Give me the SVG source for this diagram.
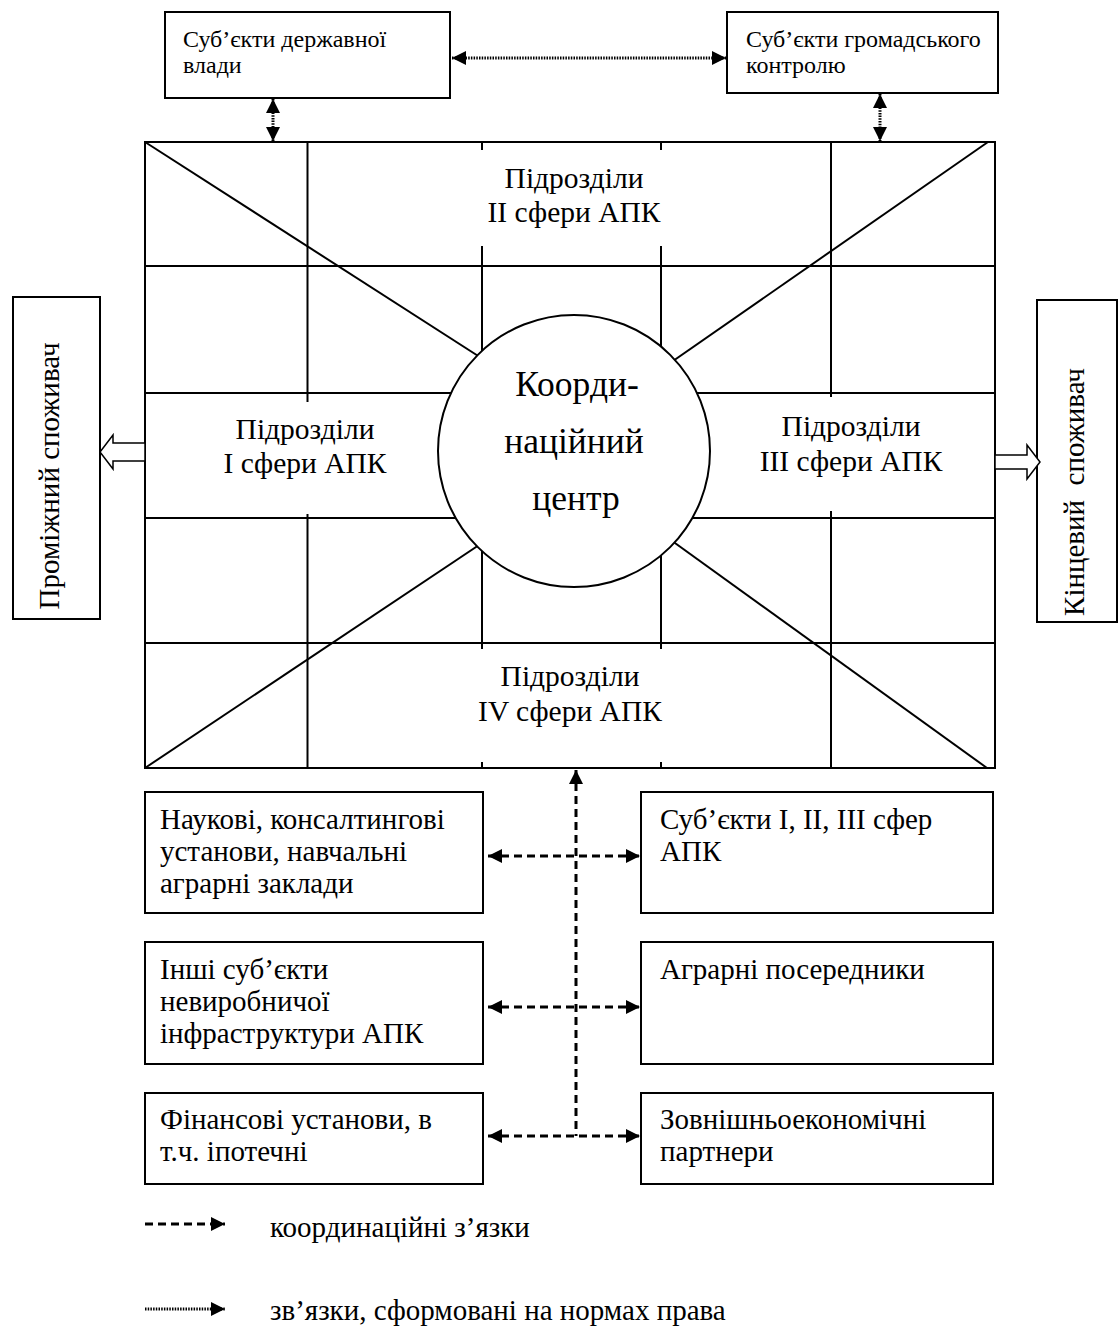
<svg xmlns="http://www.w3.org/2000/svg" width="1118" height="1329" viewBox="0 0 1118 1329">
<style>
text{font-family:"Liberation Serif","Times New Roman",serif;fill:#000}
.box{fill:#fff;stroke:#000;stroke-width:2}
.grid{fill:none;stroke:#000;stroke-width:2}
.t24{font-size:24px}
.t29{font-size:29px}
.t30{font-size:29.5px}
.t36{font-size:35.5px}
.mid{text-anchor:middle}
.dash{fill:none;stroke:#000;stroke-width:3;stroke-dasharray:8 5}
.dot{fill:none;stroke:#000;stroke-width:3;stroke-dasharray:1.5 1.2}
.hollow{fill:#fff;stroke:#000;stroke-width:1.5}
</style>
<defs>
<marker id="ah" viewBox="0 0 10 10" refX="10" refY="5" markerWidth="15" markerHeight="14" markerUnits="userSpaceOnUse" orient="auto-start-reverse">
<path d="M0,0 L10,5 L0,10 z" fill="#000"/>
</marker>
</defs>
<rect width="1118" height="1329" fill="#fff"/>

<g id="main-grid">
<rect x="145" y="142" width="850" height="626" class="grid"/>
<line x1="145" y1="266" x2="995" y2="266" class="grid"/>
<line x1="145" y1="393" x2="995" y2="393" class="grid"/>
<line x1="145" y1="518" x2="995" y2="518" class="grid"/>
<line x1="145" y1="643" x2="995" y2="643" class="grid"/>
<line x1="307.5" y1="142" x2="307.5" y2="402" class="grid"/>
<line x1="307.5" y1="514" x2="307.5" y2="768" class="grid"/>
<line x1="831" y1="142" x2="831" y2="397" class="grid"/>
<line x1="831" y1="511" x2="831" y2="768" class="grid"/>
<line x1="482" y1="142" x2="482" y2="150" class="grid"/>
<line x1="482" y1="246" x2="482" y2="420" class="grid"/>
<line x1="482" y1="480" x2="482" y2="649" class="grid"/>
<line x1="482" y1="762" x2="482" y2="768" class="grid"/>
<line x1="661" y1="142" x2="661" y2="150" class="grid"/>
<line x1="661" y1="246" x2="661" y2="420" class="grid"/>
<line x1="661" y1="480" x2="661" y2="649" class="grid"/>
<line x1="661" y1="762" x2="661" y2="768" class="grid"/>
<line x1="145" y1="142" x2="500" y2="370" class="grid"/>
<line x1="988" y1="142" x2="650" y2="377" class="grid"/>
<line x1="145" y1="768" x2="500" y2="531" class="grid"/>
<line x1="987" y1="768" x2="650" y2="525" class="grid"/>
</g>

<g id="sphere2">
<text x="574" y="188" class="t30 mid">Підрозділи</text>
<text x="574" y="222" class="t30 mid">II сфери АПК</text>
</g>
<g id="sphere1">
<text x="305" y="439" class="t30 mid">Підрозділи</text>
<text x="305" y="473" class="t30 mid">I сфери АПК</text>
</g>
<g id="sphere3">
<text x="851" y="436" class="t30 mid">Підрозділи</text>
<text x="851" y="471" class="t30 mid">III сфери АПК</text>
</g>
<g id="sphere4">
<text x="570" y="686" class="t30 mid">Підрозділи</text>
<text x="570" y="721" class="t30 mid">IV сфери АПК</text>
</g>

<g id="center">
<circle cx="574" cy="451" r="136" fill="#fff" stroke="#000" stroke-width="2"/>
<text x="577" y="396" class="t36 mid">Коорди-</text>
<text x="574" y="453" class="t36 mid">наційний</text>
<text x="576" y="510" class="t36 mid">центр</text>
</g>

<g id="state">
<rect x="165" y="12" width="285" height="86" class="box"/>
<text x="183" y="47" class="t24">Суб’єкти державної</text>
<text x="183" y="73" class="t24">влади</text>
</g>
<g id="public">
<rect x="727" y="12" width="271" height="81" class="box"/>
<text x="746" y="47" class="t24">Суб’єкти громадського</text>
<text x="746" y="73" class="t24">контролю</text>
</g>

<g id="intermediate">
<rect x="13" y="297" width="87" height="322" class="box"/>
<text transform="translate(59,476) rotate(-90)" class="t29 mid">Проміжний споживач</text>
</g>
<g id="final">
<rect x="1037" y="300" width="80" height="322" class="box"/>
<text transform="translate(1084,492) rotate(-90)" class="t29 mid" xml:space="preserve">Кінцевий  споживач</text>
</g>

<g id="science">
<rect x="145" y="792" width="338" height="121" class="box"/>
<text x="160" y="829" class="t29">Наукові, консалтингові</text>
<text x="160" y="861" class="t29">установи, навчальні</text>
<text x="160" y="893" class="t29">аграрні заклади</text>
</g>
<g id="subjects">
<rect x="641" y="792" width="352" height="121" class="box"/>
<text x="660" y="829" class="t29">Суб’єкти I, II, III сфер</text>
<text x="660" y="861" class="t29">АПК</text>
</g>
<g id="other">
<rect x="145" y="942" width="338" height="122" class="box"/>
<text x="160" y="979" class="t29">Інші суб’єкти</text>
<text x="160" y="1011" class="t29">невиробничої</text>
<text x="160" y="1043" class="t29">інфраструктури АПК</text>
</g>
<g id="intermediaries">
<rect x="641" y="942" width="352" height="122" class="box"/>
<text x="660" y="979" class="t29">Аграрні посередники</text>
</g>
<g id="finance">
<rect x="145" y="1093" width="338" height="91" class="box"/>
<text x="160" y="1129" class="t29">Фінансові установи, в</text>
<text x="160" y="1161" class="t29">т.ч. іпотечні</text>
</g>
<g id="foreign">
<rect x="641" y="1093" width="352" height="91" class="box"/>
<text x="660" y="1129" class="t29">Зовнішньоекономічні</text>
<text x="660" y="1161" class="t29">партнери</text>
</g>

<g id="connectors">
<line x1="452" y1="58" x2="726" y2="58" class="dot" marker-start="url(#ah)" marker-end="url(#ah)"/>
<line x1="273" y1="99" x2="273" y2="141" class="dot" marker-start="url(#ah)" marker-end="url(#ah)"/>
<line x1="880" y1="94" x2="880" y2="141" class="dot" marker-start="url(#ah)" marker-end="url(#ah)"/>
<line x1="576" y1="770" x2="576" y2="1136" class="dash" marker-start="url(#ah)"/>
<line x1="488" y1="856" x2="640" y2="856" class="dash" marker-start="url(#ah)" marker-end="url(#ah)"/>
<line x1="488" y1="1007" x2="640" y2="1007" class="dash" marker-start="url(#ah)" marker-end="url(#ah)"/>
<line x1="488" y1="1136" x2="640" y2="1136" class="dash" marker-start="url(#ah)" marker-end="url(#ah)"/>
<polygon points="145,443 113,443 113,435 100,452 113,469 113,461 145,461" class="hollow"/>
<polygon points="995,455 1027,455 1027,445 1040,462 1027,479 1027,469 995,469" class="hollow"/>
</g>

<g id="legend">
<line x1="145" y1="1224" x2="225" y2="1224" class="dash" marker-end="url(#ah)"/>
<text x="270" y="1237" class="t29">координаційні з’язки</text>
<line x1="145" y1="1309" x2="225" y2="1309" class="dot" marker-end="url(#ah)"/>
<text x="270" y="1320" class="t29">зв’язки, сформовані на нормах права</text>
</g>
</svg>
